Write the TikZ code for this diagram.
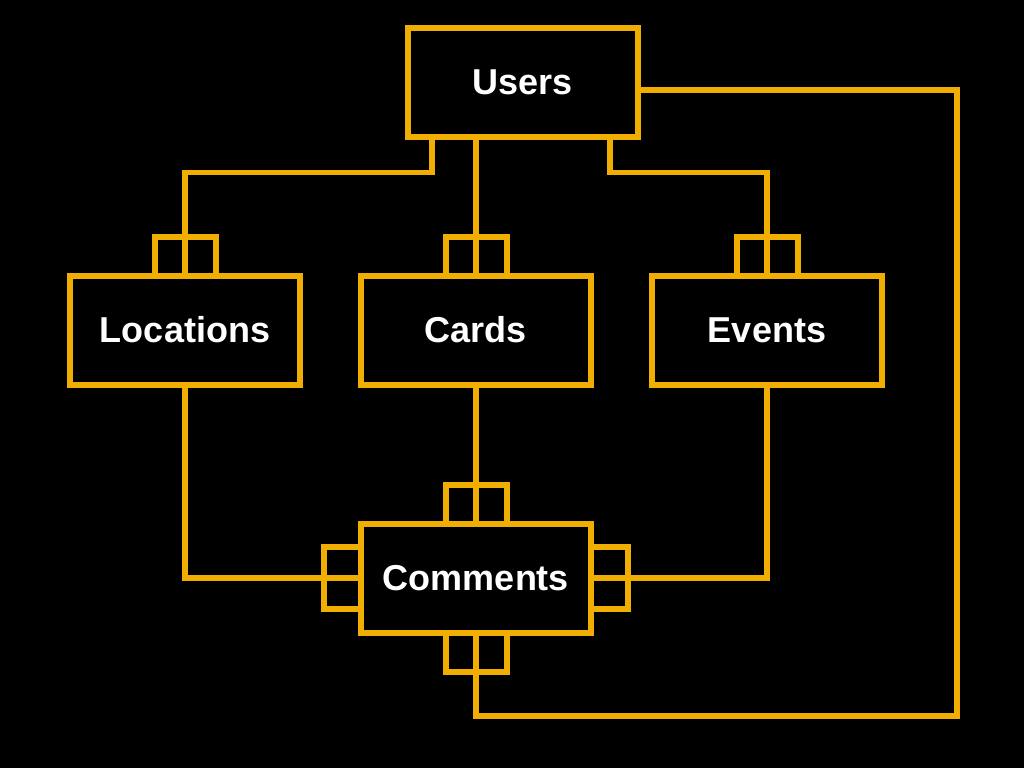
\documentclass[tikz,border=0pt]{standalone}
\usepackage{fontspec}
\setmainfont{Liberation Sans}
\usetikzlibrary{positioning}
\definecolor{amber}{RGB}{240,174,0}

\tikzset{
  entity/.style={draw=amber, line width=4.5pt, fill=black, text=white,
    font=\bfseries\fontsize{27}{32}\selectfont,
    minimum width=172.5pt, minimum height=81.75pt, inner sep=0pt, outer sep=0pt},
  foot/.style={draw=amber, line width=4.5pt, minimum width=45.75pt,
    minimum height=29.25pt, inner sep=0pt, outer sep=0pt},
  footside/.style={foot, minimum width=27.75pt, minimum height=46.5pt},
  link/.style={draw=amber, line width=4pt},
}

\begin{document}
\begin{tikzpicture}[x=0.75pt, y=-0.75pt]
        \fill[black] (0,0) rectangle (1024,768);
        \useasboundingbox (0,0) rectangle (1024,768);
        % tables
        \node[entity] (users) at (523,82) {Users};
        \node[entity] (cards) at (476,330) {Cards};
        \node[entity, left=45.75pt of cards] (locations) {Locations};
        \node[entity, right=45.75pt of cards] (events) {Events};
        \node[entity, below=104.25pt of cards] (comments) {Comments};
        % many-side markers
        \node[foot, anchor=south] (locfoot) at (locations.north) {};
        \node[foot, anchor=south] (cardfoot) at (cards.north) {};
        \node[foot, anchor=south] (eventfoot) at (events.north) {};
        \node[foot, anchor=south] (comtopfoot) at (comments.north) {};
        \node[foot, anchor=north] (combotfoot) at (comments.south) {};
        \node[footside, anchor=east] (comleftfoot) at (comments.west) {};
        \node[footside, anchor=west] (comrightfoot) at (comments.east) {};
        \coordinate (loopcorner) at (957,716);
        % relations
        \draw[link] ([xshift=-68.25pt]users.south) -- ++(0,36) -| (locations.north);
        \draw[link] (cards.north |- users.south) -- (cards.north);
        \draw[link] ([xshift=65.25pt]users.south) -- ++(0,36) -| (events.north);
        \draw[link] ([yshift=-6pt]users.east) -| (loopcorner) -| (comments.south);
        \draw[link] (cards.south) -- (comments.north);
        \draw[link] (locations.south) |- (comments.west);
        \draw[link] (events.south) |- (comments.east);
\end{tikzpicture}
\end{document}
